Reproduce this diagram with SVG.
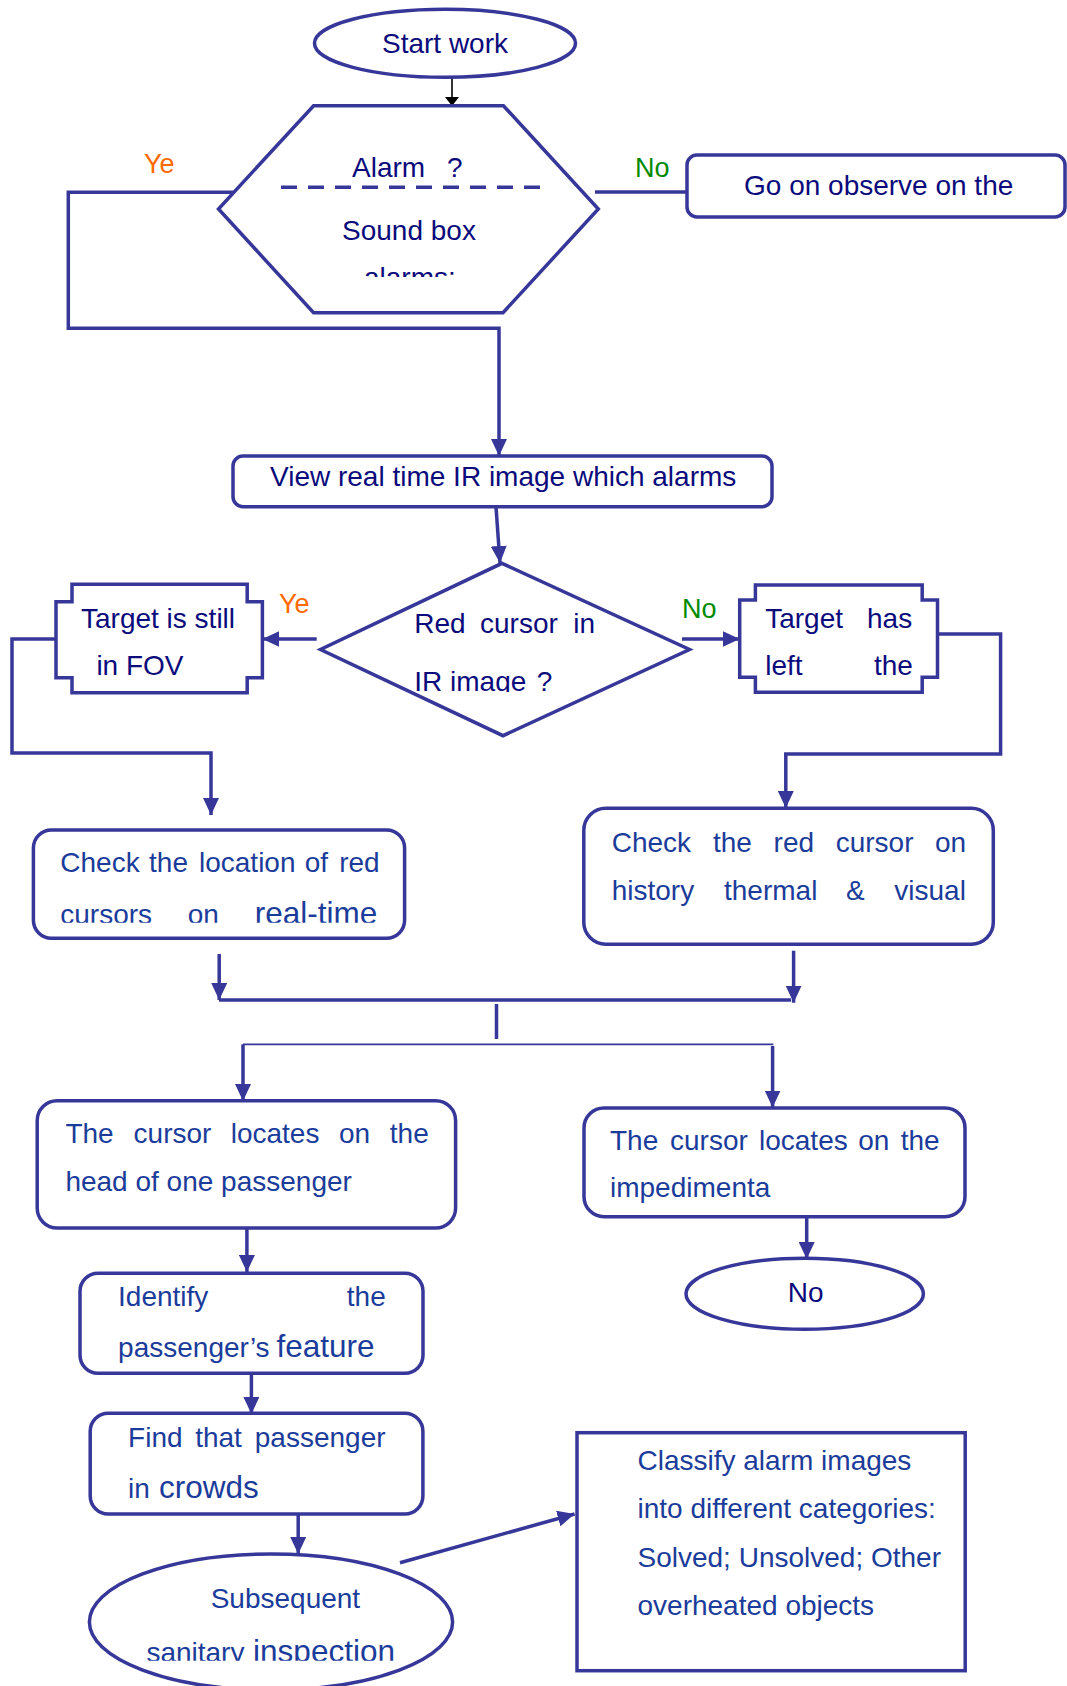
<svg xmlns="http://www.w3.org/2000/svg" width="1067" height="1686" viewBox="0 0 1067 1686">
<style>
text{font-family:"Liberation Sans",Arial,sans-serif;font-size:28px}
.sh{fill:#fff;stroke:#37379a;stroke-width:3.5}
.ln{fill:none;stroke:#37379a;stroke-width:3.5}
.thin{fill:none;stroke:#37379a;stroke-width:1.8}
.nv{fill:#0b0b7c}
.bl{fill:#1b3c9a}
.big{font-size:31.5px}
.ye{fill:#ff6a00;font-size:27px}
.no{fill:#008a00;font-size:27px}
</style>
<defs>
<marker id="ah" markerUnits="userSpaceOnUse" markerWidth="17" markerHeight="16" refX="17" refY="8" orient="auto" viewBox="0 0 17 16"><path d="M0,0 L17,8 L0,16 Z" fill="#37379a"/></marker>
<marker id="ahk" markerUnits="userSpaceOnUse" markerWidth="9" markerHeight="14" refX="9" refY="7" orient="auto" viewBox="0 0 9 14"><path d="M0,0 L9,7 L0,14 Z" fill="#000"/></marker>
<clipPath id="c1"><rect x="0" y="0" width="1067" height="277"/></clipPath>
<clipPath id="c2"><rect x="0" y="0" width="1067" height="692"/></clipPath>
<clipPath id="c3"><rect x="0" y="0" width="1067" height="922.7"/></clipPath>
<clipPath id="c4"><rect x="0" y="0" width="1067" height="1660.7"/></clipPath>
</defs>
<g id="connectors">
<path class="ln" d="M233,192.3 H68.3 V328.3 H499 V456" marker-end="url(#ah)"/>
<path d="M452,67 V106" fill="none" stroke="#000" stroke-width="1.6" marker-end="url(#ahk)"/>
<path class="ln" d="M595,192 H687"/>
<path class="ln" d="M496,507 L500,563" marker-end="url(#ah)"/>
<path class="ln" d="M316.7,639 H262.4" marker-end="url(#ah)"/>
<path class="ln" d="M56,639 H12 V753 H211 V815" marker-end="url(#ah)"/>
<path class="ln" d="M682,639 H739.7" marker-end="url(#ah)"/>
<path class="ln" d="M937.5,634 H1000.6 V754 H785.8 V808" marker-end="url(#ah)"/>
<path class="ln" d="M219.2,954 V1000" marker-end="url(#ah)"/>
<path class="ln" d="M793.6,950.7 V1002.7" marker-end="url(#ah)"/>
<path class="ln" d="M219,1000 H791"/>
<path class="ln" d="M496.5,1004 V1039"/>
<path class="thin" d="M243,1044.3 H773.4"/>
<path class="ln" d="M243,1044.3 V1101" marker-end="url(#ah)"/>
<path class="ln" d="M772.6,1046 V1107.5" marker-end="url(#ah)"/>
<path class="ln" d="M806.7,1217 V1259" marker-end="url(#ah)"/>
<path class="ln" d="M246.9,1228 V1272" marker-end="url(#ah)"/>
<path class="ln" d="M251.4,1373.3 V1414" marker-end="url(#ah)"/>
<path class="ln" d="M298.2,1514 V1554" marker-end="url(#ah)"/>
<path class="ln" d="M400,1562.7 L574.6,1514" marker-end="url(#ah)"/>
</g>
<g id="labels">
<text class="ye" x="144" y="172.7">Ye</text>
<text class="no" x="635" y="177">No</text>
<text class="ye" x="279" y="613">Ye</text>
<text class="no" x="682" y="618.3">No</text>
</g>
<g id="start">
<ellipse class="sh" cx="445" cy="43.3" rx="130.5" ry="34"/>
<text class="nv" x="445" y="53.3" text-anchor="middle">Start work</text>
</g>
<g id="alarm">
<path class="sh" d="M313.6,105.7 L503.4,105.7 L598.3,209 L503,312.7 L313.6,312.7 L218.5,209 Z"/>
<path class="ln" d="M281,187.3 H542" stroke-dasharray="16,11"/>
<text class="nv" x="352" y="177">Alarm</text>
<text class="nv" x="447" y="177">?</text>
<text class="nv" x="342" y="240">Sound box</text>
<text class="nv" x="364" y="287" clip-path="url(#c1)">alarms:</text>
</g>
<g id="observe">
<rect class="sh" x="687" y="155" width="378" height="62" rx="10"/>
<text class="nv" x="744" y="195">Go on observe on the</text>
</g>
<g id="view">
<rect class="sh" x="233" y="456" width="539" height="50.7" rx="10"/>
<text class="nv" x="270" y="486">View real time IR image which alarms</text>
</g>
<g id="redcursor">
<path class="sh" d="M502,563.3 L689.5,649.5 L503,735.7 L320.5,649.5 Z"/>
<text class="nv" y="632.7"><tspan x="414.3">Red</tspan><tspan x="480">cursor</tspan><tspan x="573.3">in</tspan></text>
<text class="nv" y="691" clip-path="url(#c2)"><tspan x="414.3">IR image</tspan><tspan x="536.7">?</tspan></text>
</g>
<g id="stillfov">
<path class="sh" d="M72,584.3 H247.2 V601.7 H262.4 V677.7 H247.2 V692.7 H72 V677.7 H56 V601.7 H72 Z"/>
<text class="nv" x="81" y="627.7">Target is still</text>
<text class="nv" x="96.4" y="675">in FOV</text>
</g>
<g id="leftthe">
<path class="sh" d="M755.4,585 H922.2 V600 H937.5 V677.3 H922.2 V692.3 H755.4 V677.3 H739.7 V600 H755.4 Z"/>
<text class="nv" y="627.7"><tspan x="765.2">Target</tspan><tspan x="867">has</tspan></text>
<text class="nv" y="675"><tspan x="765.2">left</tspan><tspan x="874">the</tspan></text>
</g>
<g id="checklocation">
<rect class="sh" x="33.4" y="830" width="371.2" height="108.3" rx="18"/>
<text class="bl" y="871.7"><tspan x="60.3">Check</tspan><tspan x="149.1">the</tspan><tspan x="199">location</tspan><tspan x="304.8">of</tspan><tspan x="339.2">red</tspan></text>
<text class="bl" y="924" clip-path="url(#c3)"><tspan x="60.3">cursors</tspan><tspan x="187.7">on</tspan><tspan x="254.8" class="big">real-time</tspan></text>
</g>
<g id="checkhistory">
<rect class="sh" x="583.8" y="808.3" width="409.5" height="136" rx="22"/>
<text class="bl" y="852.3"><tspan x="611.7">Check</tspan><tspan x="712.9">the</tspan><tspan x="773.6">red</tspan><tspan x="835.7">cursor</tspan><tspan x="935">on</tspan></text>
<text class="bl" y="900"><tspan x="611.7">history</tspan><tspan x="724">thermal</tspan><tspan x="846">&amp;</tspan><tspan x="894.3">visual</tspan></text>
</g>
<g id="headpassenger">
<rect class="sh" x="37.2" y="1100.7" width="418.4" height="127.3" rx="20"/>
<text class="bl" y="1143.3"><tspan x="65.4">The</tspan><tspan x="133.6">cursor</tspan><tspan x="230.7">locates</tspan><tspan x="339">on</tspan><tspan x="389.8">the</tspan></text>
<text class="bl" x="65.4" y="1190.7">head of one passenger</text>
</g>
<g id="impedimenta">
<rect class="sh" x="584" y="1108" width="381" height="108.7" rx="20"/>
<text class="bl" y="1150"><tspan x="610">The</tspan><tspan x="670">cursor</tspan><tspan x="759">locates</tspan><tspan x="858.3">on</tspan><tspan x="900.7">the</tspan></text>
<text class="bl" x="610" y="1197.3">impedimenta</text>
</g>
<g id="no">
<ellipse class="sh" cx="804.7" cy="1293.8" rx="118.7" ry="35.5"/>
<text class="nv" x="787.7" y="1302.3">No</text>
</g>
<g id="identify">
<rect class="sh" x="80" y="1273.3" width="343" height="100" rx="18"/>
<text class="bl" y="1306"><tspan x="118.1">Identify</tspan><tspan x="346.8">the</tspan></text>
<text class="bl" y="1357.3"><tspan x="118.1">passenger’s</tspan><tspan x="276.5" class="big">feature</tspan></text>
</g>
<g id="find">
<rect class="sh" x="90.2" y="1413.3" width="332.7" height="100.7" rx="18"/>
<text class="bl" y="1446.7"><tspan x="128.1">Find</tspan><tspan x="195.2">that</tspan><tspan x="254.8">passenger</tspan></text>
<text class="bl" y="1498.3"><tspan x="128.1">in</tspan><tspan x="159" class="big">crowds</tspan></text>
</g>
<g id="subsequent">
<ellipse class="sh" cx="271" cy="1622" rx="181.6" ry="68"/>
<text class="bl" x="210.7" y="1608.3">Subsequent</text>
<text class="bl" y="1662" clip-path="url(#c4)"><tspan x="146.4">sanitary</tspan><tspan x="253.1" class="big">inspection</tspan></text>
</g>
<g id="classify">
<rect class="sh" x="577" y="1432.7" width="388.2" height="238"/>
<text class="bl" x="637.5" y="1470">Classify alarm images</text>
<text class="bl" x="637.5" y="1518.3">into different categories:</text>
<text class="bl" x="637.5" y="1566.7">Solved; Unsolved; Other</text>
<text class="bl" x="637.5" y="1615">overheated objects</text>
</g>
</svg>
